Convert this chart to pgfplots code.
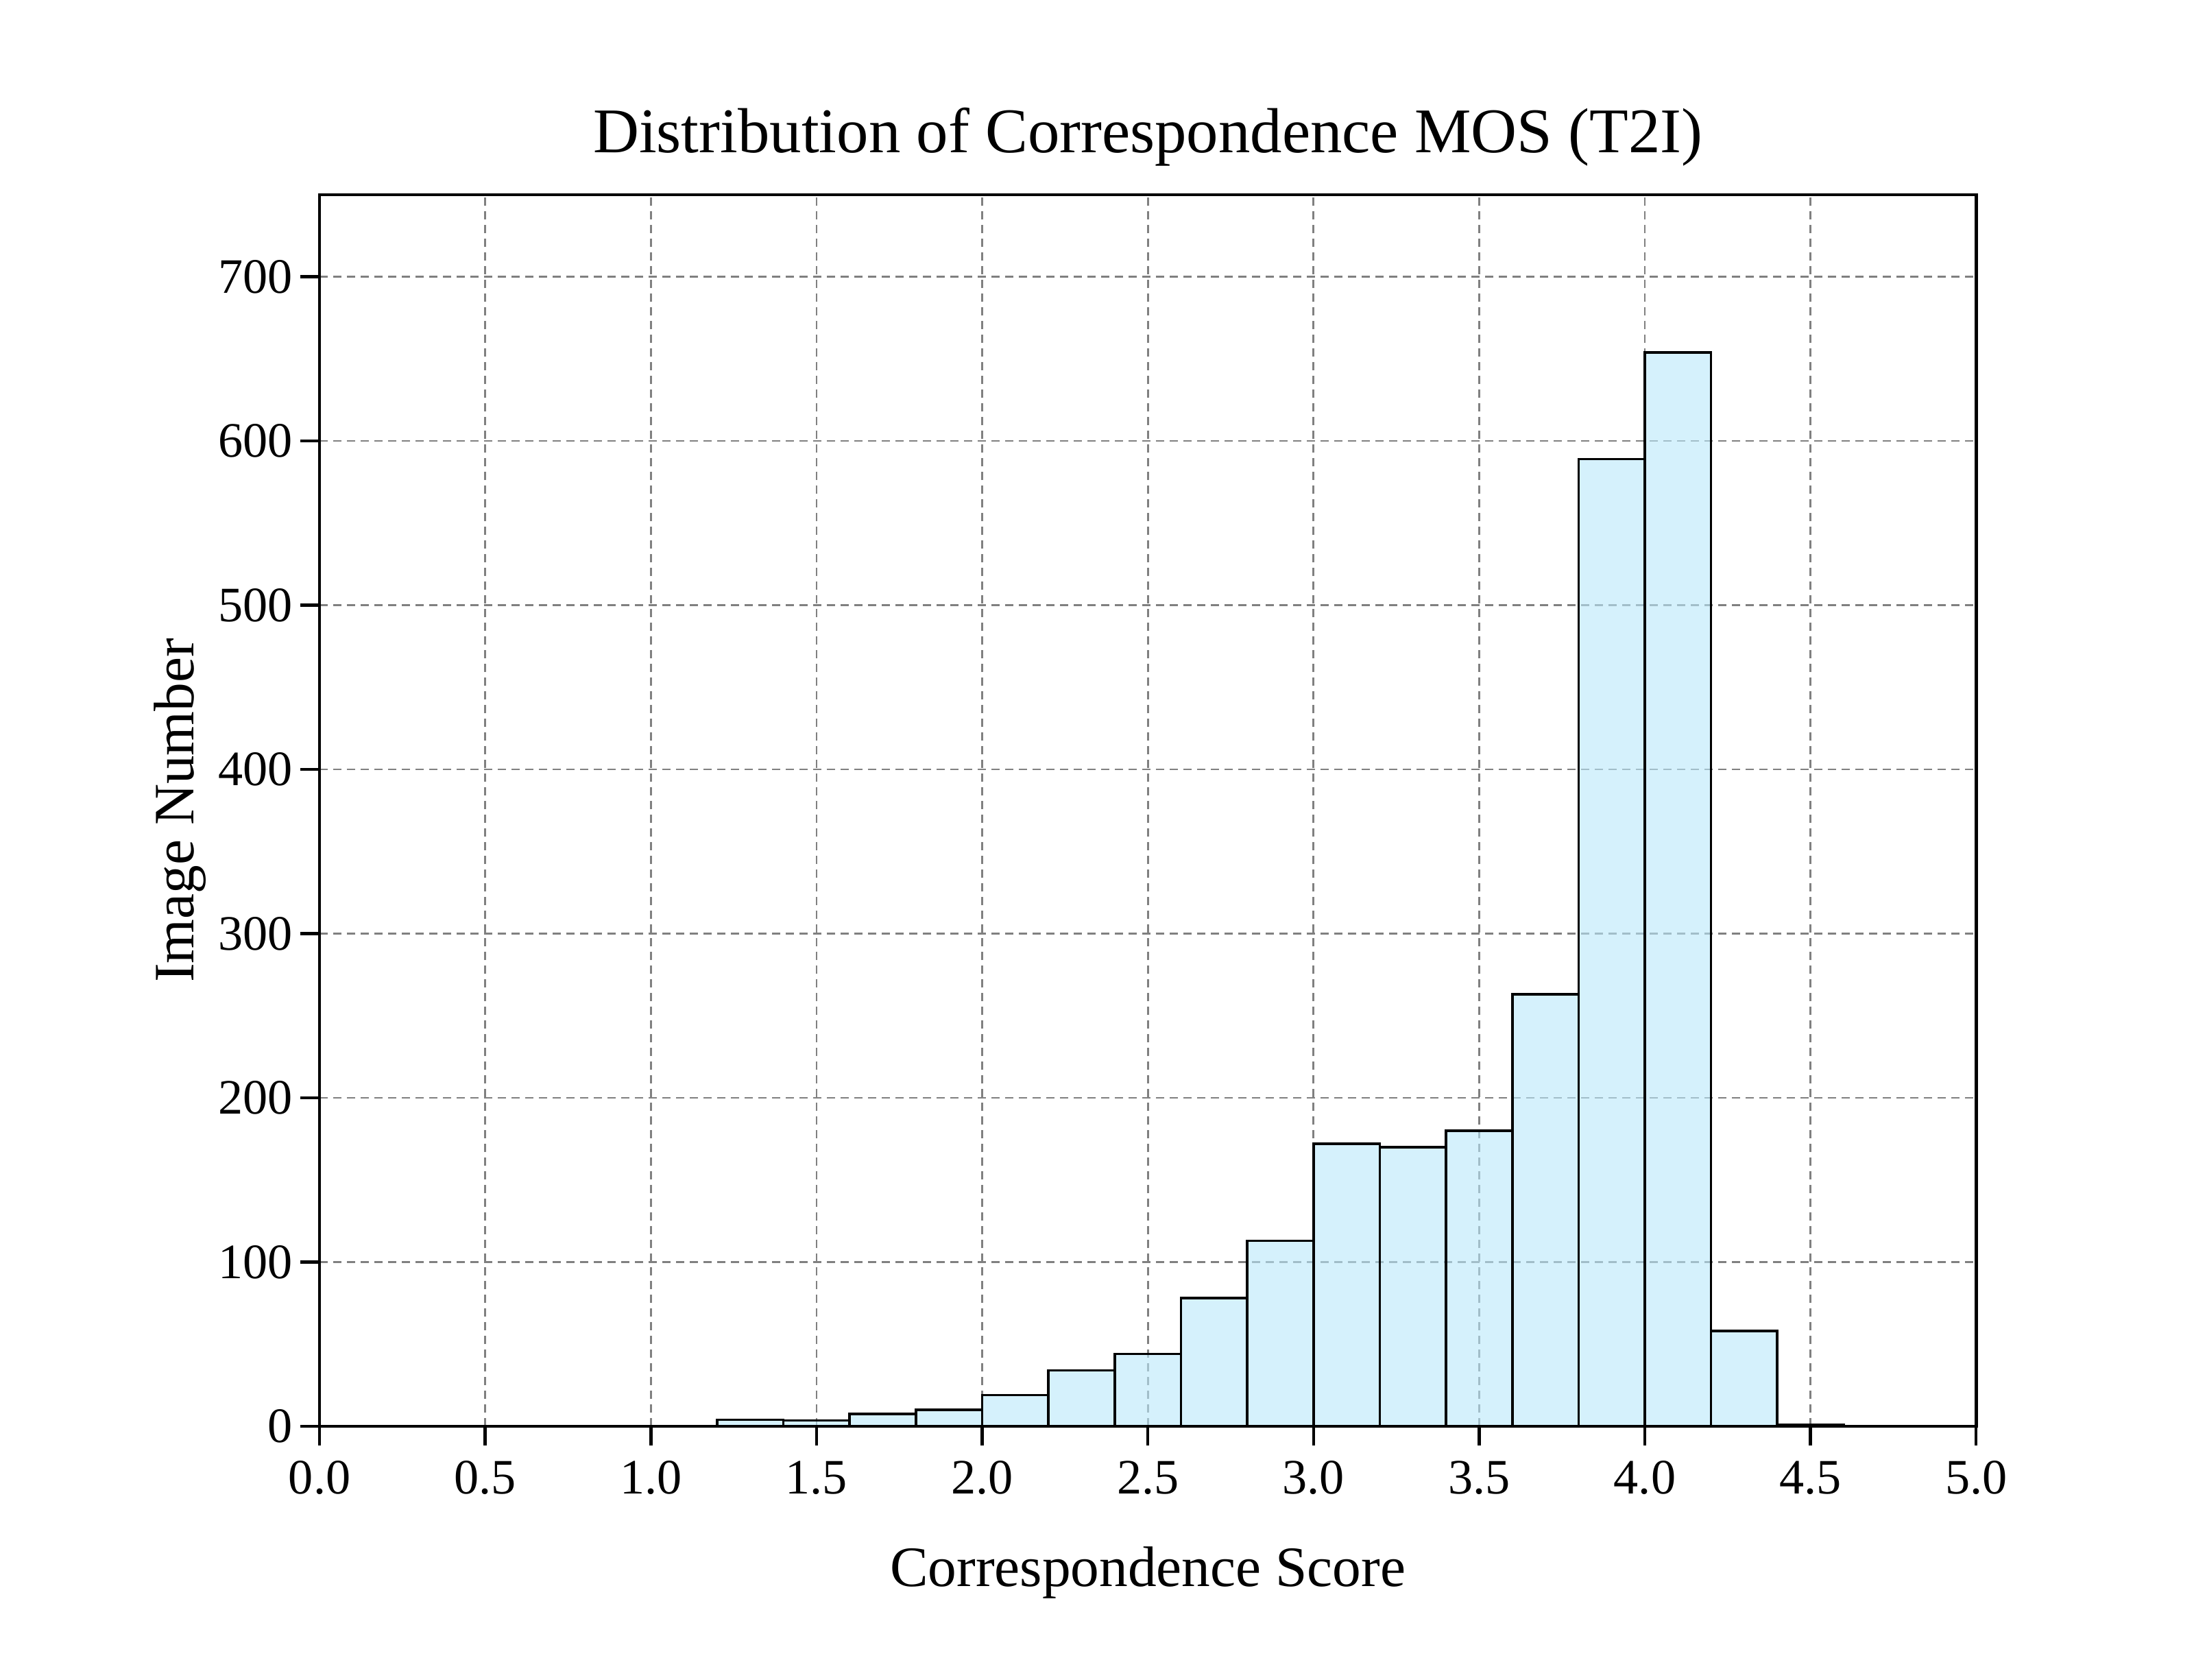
\documentclass[border=0pt]{standalone}
\usepackage{pgfplots}
\pgfplotsset{compat=1.18}
\usepackage{fontspec}
\setmainfont{Liberation Serif}
\definecolor{barfill}{RGB}{185,232,250}
\begin{document}
\begin{tikzpicture}
\begin{axis}[
  scale only axis, width=434.9pt, height=323.3pt,
  xmin=0, xmax=5, ymin=0, ymax=750,
  xtick={0,0.5,1,1.5,2,2.5,3,3.5,4,4.5,5},
  xticklabels={0.0,0.5,1.0,1.5,2.0,2.5,3.0,3.5,4.0,4.5,5.0},
  ytick={0,100,200,300,400,500,600,700},
  /pgf/number format/assume math mode=true,
  xtick pos=bottom, ytick pos=left,
  tick align=outside, major tick length=5pt,
  every tick/.style={black, line width=0.8pt},
  axis line style={black, line width=0.85pt},
  grid=major,
  major grid style={dash pattern=on 2.2pt off 1.4pt, black!50, line width=0.5pt},
  tick label style={font=\fontsize{13}{15}\selectfont},
  xticklabel style={yshift=-0.6pt},
  yticklabel style={xshift=1.4pt},
  label style={font=\fontsize{15}{18}\selectfont},
  title={Distribution of Correspondence MOS (T2I)},
  title style={font=\fontsize{16.7}{20}\selectfont, at={(0.5,1)}, anchor=base, yshift=5pt},
  xlabel={Correspondence Score},
  xlabel style={at={(0.5,0)}, anchor=base, yshift=-42pt},
  ylabel={Image Number},
  ylabel style={at={(0,0.5)}, rotate=0, anchor=base, yshift=33.1pt},
]
\addplot[ybar, bar width=0.2, bar shift=0pt, draw=black, line width=0.65pt, fill=barfill, fill opacity=0.6, draw opacity=1]
coordinates {
(1.3,4) (1.5,3.5) (1.7,7.5) (1.9,10) (2.1,19) (2.3,34) (2.5,44) (2.7,78) (2.9,113)
(3.1,172) (3.3,170) (3.5,180) (3.7,263) (3.9,589) (4.1,654) (4.3,58) (4.5,1)
};
\coordinate (bl) at (rel axis cs:0,0);
\coordinate (tr) at (rel axis cs:1,1);
\end{axis}
\pgfresetboundingbox
\path[use as bounding box] ([shift={(-83.9pt,-66.6pt)}]bl) rectangle ([shift={(57.2pt,51.1pt)}]tr);
\end{tikzpicture}
\end{document}
